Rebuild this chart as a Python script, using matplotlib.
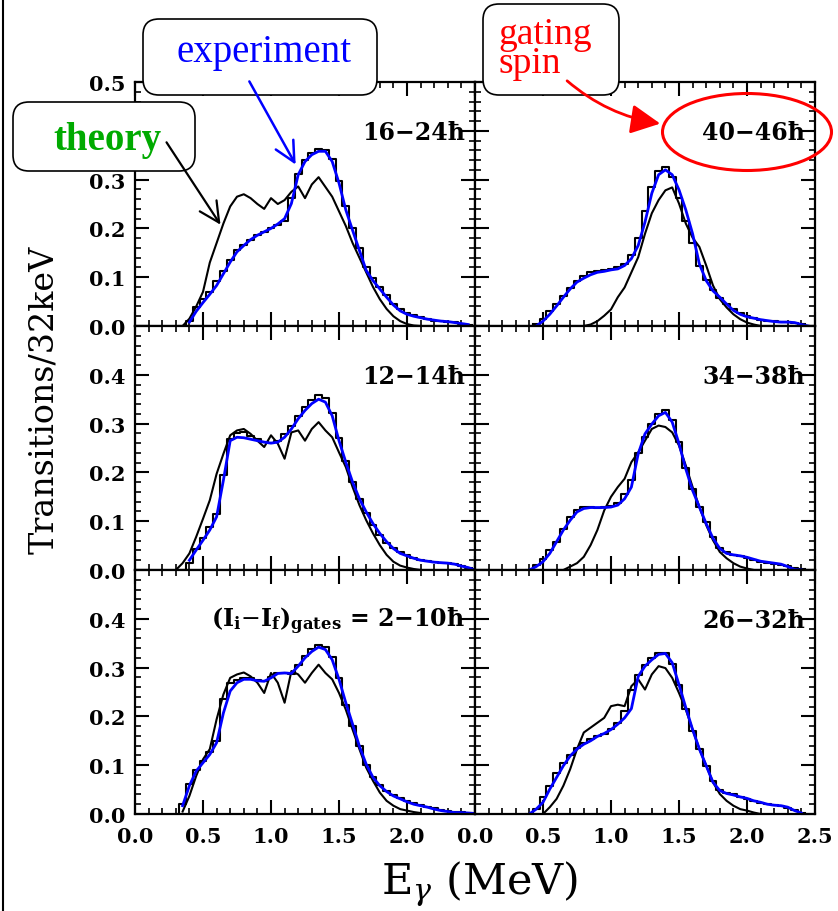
import numpy as np
import matplotlib
matplotlib.use("Agg")
import matplotlib.pyplot as plt
from matplotlib.patches import FancyBboxPatch, Ellipse, FancyArrowPatch
from matplotlib.ticker import MultipleLocator, FuncFormatter

nan = np.nan

# gamma-ray energy grid (MeV), 50 keV steps
energy = [0.30, 0.35, 0.40, 0.45, 0.50, 0.55, 0.60, 0.65, 0.70, 0.75,
          0.80, 0.85, 0.90, 0.95, 1.00, 1.05, 1.10, 1.15, 1.20, 1.25,
          1.30, 1.35, 1.40, 1.45, 1.50, 1.55, 1.60, 1.65, 1.70, 1.75,
          1.80, 1.85, 1.90, 1.95, 2.00, 2.05, 2.10, 2.15, 2.20, 2.25,
          2.30, 2.35, 2.40, 2.45, 2.50]

# 16-24 hbar
exp_16_24 = [nan, 0.000, 0.010, 0.038, 0.055, 0.070, 0.092, 0.112, 0.135, 0.155,
             0.166, 0.177, 0.186, 0.192, 0.200, 0.206, 0.215, 0.262, 0.312, 0.340,
             0.355, 0.362, 0.360, 0.342, 0.298, 0.245, 0.200, 0.160, 0.120, 0.098,
             0.080, 0.063, 0.046, 0.035, 0.026, 0.022, 0.018, 0.014, 0.011, 0.011,
             0.009, 0.008, 0.005, 0.003, nan]
fit_16_24 = [nan, nan, 0.008, 0.030, 0.048, 0.065, 0.083, 0.107, 0.131, 0.152,
             0.165, 0.177, 0.186, 0.193, 0.200, 0.209, 0.220, 0.251, 0.310, 0.337,
             0.351, 0.358, 0.358, 0.337, 0.293, 0.238, 0.196, 0.155, 0.114, 0.093,
             0.076, 0.059, 0.043, 0.031, 0.024, 0.020, 0.017, 0.014, 0.012, 0.010,
             0.009, 0.007, 0.005, 0.003, nan]
th_16_24 = [nan, 0.000, 0.015, 0.040, 0.070, 0.130, 0.170, 0.210, 0.245, 0.265,
            0.270, 0.262, 0.250, 0.240, 0.262, 0.250, 0.258, 0.275, 0.286, 0.262,
            0.290, 0.305, 0.285, 0.265, 0.235, 0.205, 0.170, 0.140, 0.110, 0.080,
            0.055, 0.035, 0.020, 0.010, 0.004, 0.001, 0.000, nan, nan, nan,
            nan, nan, nan, nan, nan]

# 40-46 hbar
exp_40_46 = [nan, nan, nan, 0.004, 0.015, 0.030, 0.045, 0.062, 0.078, 0.093,
             0.103, 0.110, 0.113, 0.115, 0.117, 0.120, 0.128, 0.145, 0.180, 0.235,
             0.285, 0.318, 0.325, 0.305, 0.262, 0.215, 0.170, 0.122, 0.095, 0.073,
             0.058, 0.045, 0.034, 0.026, 0.020, 0.016, 0.013, 0.011, 0.010, 0.009,
             0.008, 0.006, 0.004, nan, nan]
fit_40_46 = [nan, nan, nan, 0.000, 0.010, 0.024, 0.041, 0.059, 0.076, 0.090,
             0.098, 0.105, 0.110, 0.112, 0.115, 0.117, 0.124, 0.138, 0.165, 0.213,
             0.272, 0.310, 0.320, 0.310, 0.279, 0.238, 0.189, 0.127, 0.093, 0.072,
             0.059, 0.045, 0.032, 0.024, 0.019, 0.016, 0.013, 0.011, 0.009, 0.008,
             0.008, 0.007, 0.003, 0.000, nan]
th_40_46 = [nan, nan, nan, nan, nan, nan, nan, nan, nan, nan,
            0.000, 0.003, 0.010, 0.021, 0.034, 0.059, 0.079, 0.110, 0.141, 0.189,
            0.231, 0.258, 0.278, 0.284, 0.251, 0.210, 0.181, 0.162, 0.124, 0.083,
            0.055, 0.038, 0.024, 0.014, 0.007, 0.003, 0.000, nan, nan, nan,
            nan, nan, nan, nan, nan]

# 12-14 hbar
exp_12_14 = [nan, 0.000, 0.015, 0.043, 0.065, 0.088, 0.115, 0.195, 0.268, 0.280,
             0.282, 0.275, 0.268, 0.262, 0.260, 0.265, 0.278, 0.295, 0.315, 0.333,
             0.348, 0.358, 0.352, 0.322, 0.270, 0.224, 0.181, 0.146, 0.117, 0.092,
             0.072, 0.056, 0.045, 0.036, 0.030, 0.025, 0.021, 0.018, 0.016, 0.015,
             0.014, 0.012, 0.008, 0.005, nan]
fit_12_14 = [nan, nan, 0.020, 0.041, 0.061, 0.082, 0.109, 0.184, 0.265, 0.272,
             0.271, 0.268, 0.265, 0.262, 0.260, 0.262, 0.272, 0.289, 0.310, 0.327,
             0.341, 0.350, 0.344, 0.316, 0.265, 0.221, 0.180, 0.146, 0.119, 0.095,
             0.075, 0.058, 0.044, 0.034, 0.029, 0.024, 0.020, 0.018, 0.016, 0.015,
             0.014, 0.012, 0.008, 0.005, 0.000]
th_12_14 = [0.000, 0.014, 0.034, 0.068, 0.105, 0.143, 0.197, 0.238, 0.276, 0.286,
            0.289, 0.279, 0.265, 0.252, 0.276, 0.259, 0.228, 0.282, 0.286, 0.265,
            0.289, 0.303, 0.286, 0.272, 0.241, 0.211, 0.170, 0.133, 0.102, 0.075,
            0.051, 0.031, 0.017, 0.009, 0.005, 0.002, 0.000, nan, nan, nan,
            nan, nan, nan, nan, nan]

# 34-38 hbar
exp_34_38 = [nan, nan, 0.000, 0.010, 0.022, 0.042, 0.058, 0.085, 0.108, 0.123,
             0.130, 0.130, 0.127, 0.130, 0.131, 0.138, 0.155, 0.185, 0.240, 0.272,
             0.300, 0.320, 0.328, 0.308, 0.262, 0.208, 0.165, 0.130, 0.098, 0.068,
             0.046, 0.036, 0.031, 0.029, 0.025, 0.021, 0.017, 0.015, 0.013, 0.011,
             0.008, 0.005, 0.003, nan, nan]
fit_34_38 = [nan, nan, 0.000, 0.007, 0.017, 0.034, 0.058, 0.082, 0.102, 0.119,
             0.126, 0.128, 0.128, 0.128, 0.129, 0.133, 0.146, 0.170, 0.238, 0.279,
             0.299, 0.316, 0.323, 0.303, 0.259, 0.207, 0.163, 0.129, 0.095, 0.065,
             0.044, 0.034, 0.031, 0.029, 0.026, 0.022, 0.018, 0.016, 0.014, 0.012,
             0.007, 0.001, 0.000, nan, nan]
th_34_38 = [nan, nan, nan, nan, nan, nan, nan, 0.000, 0.007, 0.014,
            0.027, 0.051, 0.082, 0.122, 0.150, 0.170, 0.187, 0.221, 0.241, 0.265,
            0.289, 0.296, 0.293, 0.282, 0.255, 0.214, 0.170, 0.129, 0.092, 0.061,
            0.037, 0.024, 0.014, 0.007, 0.003, 0.000, nan, nan, nan, nan,
            nan, nan, nan, nan, nan]

# 2-10 hbar
exp_2_10 = [0.000, 0.020, 0.062, 0.090, 0.108, 0.127, 0.150, 0.235, 0.268, 0.275,
            0.279, 0.278, 0.275, 0.272, 0.280, 0.289, 0.288, 0.287, 0.305, 0.324,
            0.338, 0.346, 0.343, 0.322, 0.278, 0.224, 0.181, 0.139, 0.101, 0.076,
            0.059, 0.048, 0.039, 0.032, 0.027, 0.022, 0.018, 0.015, 0.012, 0.009,
            0.006, 0.005, 0.004, 0.003, nan]
fit_2_10 = [nan, 0.017, 0.058, 0.088, 0.105, 0.122, 0.146, 0.207, 0.252, 0.269,
            0.276, 0.276, 0.273, 0.272, 0.279, 0.288, 0.289, 0.288, 0.303, 0.320,
            0.333, 0.342, 0.337, 0.316, 0.276, 0.228, 0.184, 0.139, 0.102, 0.075,
            0.058, 0.046, 0.037, 0.031, 0.025, 0.020, 0.017, 0.014, 0.010, 0.007,
            0.005, 0.003, 0.003, 0.002, 0.001]
th_2_10 = [nan, 0.005, 0.037, 0.078, 0.112, 0.133, 0.194, 0.245, 0.279, 0.286,
           0.290, 0.282, 0.269, 0.248, 0.289, 0.269, 0.228, 0.293, 0.286, 0.269,
           0.289, 0.306, 0.289, 0.276, 0.248, 0.214, 0.173, 0.133, 0.095, 0.068,
           0.044, 0.027, 0.017, 0.010, 0.007, 0.004, 0.002, nan, nan, nan,
           nan, nan, nan, nan, nan]

# 26-32 hbar
exp_26_32 = [nan, nan, 0.000, 0.010, 0.035, 0.058, 0.085, 0.104, 0.121, 0.135,
             0.145, 0.153, 0.160, 0.163, 0.174, 0.186, 0.212, 0.255, 0.284, 0.305,
             0.319, 0.329, 0.330, 0.307, 0.265, 0.216, 0.171, 0.134, 0.099, 0.068,
             0.050, 0.044, 0.040, 0.035, 0.031, 0.026, 0.023, 0.020, 0.018, 0.016,
             0.012, 0.008, 0.003, nan, nan]
fit_26_32 = [nan, nan, 0.000, 0.010, 0.024, 0.051, 0.075, 0.099, 0.119, 0.133,
             0.143, 0.150, 0.159, 0.165, 0.173, 0.184, 0.197, 0.216, 0.282, 0.303,
             0.316, 0.327, 0.329, 0.310, 0.265, 0.218, 0.173, 0.133, 0.099, 0.065,
             0.048, 0.042, 0.039, 0.035, 0.032, 0.027, 0.024, 0.020, 0.018, 0.017,
             0.014, 0.007, 0.002, nan, nan]
th_26_32 = [nan, nan, nan, nan, 0.000, 0.014, 0.031, 0.058, 0.092, 0.133,
            0.167, 0.177, 0.187, 0.197, 0.221, 0.224, 0.221, 0.262, 0.276, 0.255,
            0.286, 0.303, 0.299, 0.279, 0.248, 0.214, 0.173, 0.133, 0.099, 0.065,
            0.041, 0.027, 0.017, 0.010, 0.007, 0.003, 0.000, nan, nan, nan,
            nan, nan, nan, nan, nan]

gate_label = ("(I$_\\mathbf{i}$$-$I$_\\mathbf{f}$)$_\\mathbf{gates}$"
              " = 2\u221210\u0127")

# (row, col, label, experiment, fit, theory)
panels = [
    (0, 0, "16\u221224\u0127", exp_16_24, fit_16_24, th_16_24),
    (0, 1, "40\u221246\u0127", exp_40_46, fit_40_46, th_40_46),
    (1, 0, "12\u221214\u0127", exp_12_14, fit_12_14, th_12_14),
    (1, 1, "34\u221238\u0127", exp_34_38, fit_34_38, th_34_38),
    (2, 0, gate_label, exp_2_10, fit_2_10, th_2_10),
    (2, 1, "26\u221232\u0127", exp_26_32, fit_26_32, th_26_32),
]

plt.rcParams["font.family"] = ["DejaVu Serif"]
plt.rcParams["mathtext.fontset"] = "dejavuserif"

W, H = 838, 912
fig = plt.figure(figsize=(W / 100, H / 100), dpi=100)

x_left = [135, 475]
panel_w = 340
top0 = 83
panel_h = 244


def y_fmt(row):
    def f(v, p):
        # upper labels are hidden by the next panel / the "theory" box
        if row > 0 and v > 0.45:
            return ""
        if row == 0 and 0.35 < v < 0.45:
            return ""
        return f"{v:.1f}"
    return f


def x_fmt(col):
    return lambda v, p: "" if (col == 0 and v > 2.45) else f"{v:.1f}"


for row, col, label, exp, fit, th in panels:
    for arr in (exp, fit, th):
        assert len(arr) == len(energy), label
    y_top = top0 + row * panel_h
    ax = fig.add_axes([x_left[col] / W, 1 - (y_top + panel_h) / H,
                       panel_w / W, panel_h / H])
    ax.step(energy, exp, where="mid", color="black", lw=1.5)
    ax.plot(energy, th, color="black", lw=1.5)
    ax.plot(energy, fit, color="#0000ff", lw=2.0)
    ax.set_xlim(0, 2.5)
    ax.set_ylim(0, 0.5)

    ax.xaxis.set_major_locator(MultipleLocator(0.5))
    ax.xaxis.set_minor_locator(MultipleLocator(0.1))
    ax.yaxis.set_major_locator(MultipleLocator(0.1))
    ax.yaxis.set_minor_locator(MultipleLocator(0.02))
    ax.tick_params(which="both", direction="in", top=True, right=True,
                   width=1.5, labelsize=15)
    ax.tick_params(which="major", length=10)
    ax.tick_params(which="minor", length=4.5, width=1.2)
    ax.tick_params(axis="y", pad=7)
    ax.tick_params(axis="x", pad=9)
    for sp in ax.spines.values():
        sp.set_linewidth(1.6)

    ax.yaxis.set_major_formatter(FuncFormatter(y_fmt(row)))
    ax.xaxis.set_major_formatter(FuncFormatter(x_fmt(col)))
    if col == 1:
        ax.tick_params(labelleft=False)
    if row < 2:
        ax.tick_params(labelbottom=False)
    for lab in ax.get_xticklabels() + ax.get_yticklabels():
        lab.set_fontweight("bold")

    ax.text(0.97, 0.795, label, transform=ax.transAxes, ha="right",
            va="center", fontsize=17, fontweight="bold")

# axis titles
fig.text(44 / W, 1 - 400 / H, "Transitions/32keV", rotation=90,
         ha="center", va="center", fontsize=24)
fig.text(480 / W, 1 - 884 / H, r"E$_\gamma$ (MeV)", ha="center",
         va="center", fontsize=31)

# annotation layer in pixel coordinates
ov = fig.add_axes([0, 0, 1, 1])
ov.set_xlim(0, W)
ov.set_ylim(H, 0)
ov.axis("off")
ov.patch.set_alpha(0)

ov.plot([3, 3], [0, H], color="black", lw=1.5)

box_kw = dict(boxstyle="round,pad=0,rounding_size=16", ec="black",
              fc="white", lw=1.2)
ov.add_patch(FancyBboxPatch((143, 20), 234, 76, **box_kw))
ov.add_patch(FancyBboxPatch((13, 103), 182, 69, **box_kw))
ov.add_patch(FancyBboxPatch((483, 5), 136, 91, **box_kw))

ov.text(264, 62, "experiment", ha="center", va="baseline", color="#0000ff",
        fontsize=28, family="Liberation Serif")
ov.text(107, 150, "theory", ha="center", va="baseline", color="#00aa00",
        fontsize=28, fontweight="bold", family="Liberation Serif")
ov.text(498, 49, "gating\nspin", ha="left", va="center", color="red",
        fontsize=27, family="Liberation Serif", linespacing=0.8)

ov.add_patch(FancyArrowPatch((165, 141), (222, 228),
                             arrowstyle="->,head_length=0.8,head_width=0.4",
                             mutation_scale=18, color="black", lw=1.6))
ov.add_patch(FancyArrowPatch((248, 80), (297, 168),
                             arrowstyle="->,head_length=0.8,head_width=0.4",
                             mutation_scale=18, color="#0000ff", lw=1.8))
ov.add_patch(FancyArrowPatch((565, 80), (663, 125),
                             arrowstyle="-|>,head_length=0.9,head_width=0.45",
                             connectionstyle="arc3,rad=0.15",
                             mutation_scale=20, color="red", lw=2.0))
ov.add_patch(Ellipse((747, 133), 169, 77, fill=False, ec="red", lw=2.2))

fig.savefig("out.png", dpi=100)
